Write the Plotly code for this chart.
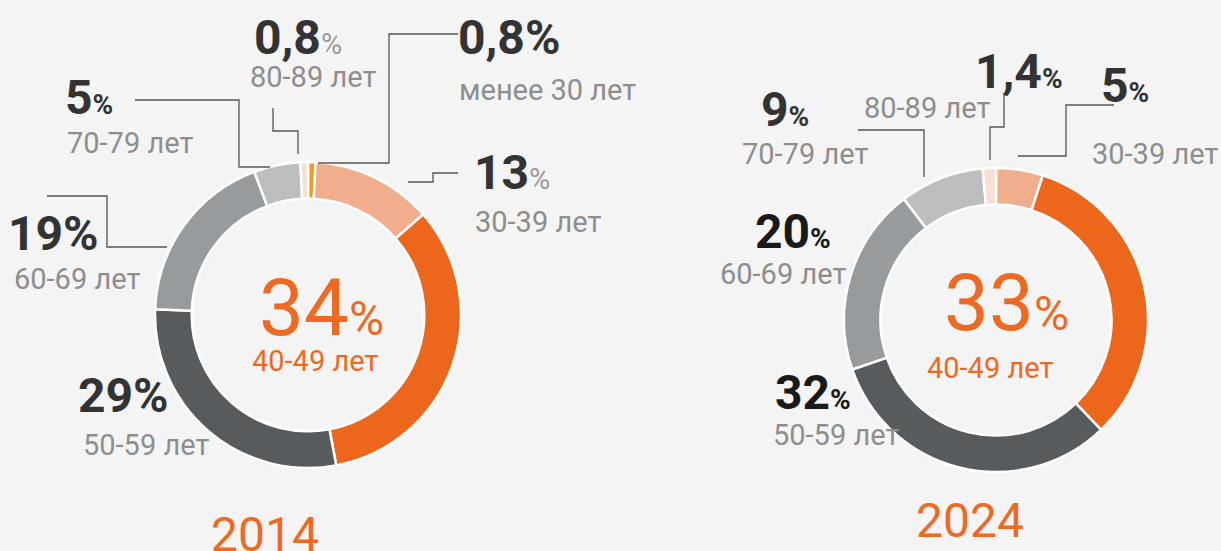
import plotly.graph_objects as go

W, H = 1221, 551

# ---------------- data ----------------
ages_2014 = ["менее 30 лет", "30-39 лет", "40-49 лет", "50-59 лет", "60-69 лет", "70-79 лет", "80-89 лет"]
values_2014 = [0.8, 13, 34, 29, 19, 5, 0.8]
ages_2024 = ["30-39 лет", "40-49 лет", "50-59 лет", "60-69 лет", "70-79 лет", "80-89 лет"]
values_2024 = [5, 33, 32, 20, 9, 1.4]
years = ["2014", "2024"]

age_colors = {
    "менее 30 лет": "#F39A1E",
    "30-39 лет": "#F0AE8D",
    "40-49 лет": "#EC671C",
    "50-59 лет": "#575B5E",
    "60-69 лет": "#979B9D",
    "70-79 лет": "#BEBEBE",
    "80-89 лет": "#F9DFD2",
}

# ---------------- layout config (pixels) ----------------
ORANGE = "#EE6A22"
GRAY_TXT = "#8E8E8E"
LINE = "#555555"

def px(x):
    return x / W

def py(y):
    return 1 - y / H

def fmt(v):
    return f"{v:g}".replace(".", ",")

# donut geometry: center x, center y, radius
donuts = {
    "2014": (308, 315, 153),
    "2024": (996, 320, 152),
}

# label placement per year/age: (num_x, num_y, lab_x, lab_y, pct_style, num_color)
label_cfg = {
    "2014": {
        "80-89 лет": (252, 37, 248, 77, "gray", "#333333"),
        "менее 30 лет": (456, 37, 457, 90, "full", "#333333"),
        "30-39 лет": (472, 172, 473, 222, "gray", "#333333"),
        "70-79 лет": (63, 97, 65, 143, "small", "#333333"),
        "60-69 лет": (6, 233, 12, 279, "full", "#333333"),
        "50-59 лет": (76, 395, 81, 445, "full", "#333333"),
    },
    "2024": {
        "70-79 лет": (759, 110, 740, 154, "small", "#333333"),
        "80-89 лет": (973, 71, 862, 108, "small", "#333333"),
        "30-39 лет": (1099, 85, 1090, 154, "small", "#333333"),
        "60-69 лет": (753, 231, 718, 274, "small", "#1A1A1A"),
        "50-59 лет": (773, 393, 771, 435, "small", "#1A1A1A"),
    },
}

leaders = [
    [(273, 108), (273, 131), (298, 131), (298, 154)],
    [(458, 34), (389, 34), (389, 163), (318, 163)],
    [(458, 173), (433, 173), (433, 182), (408, 182)],
    [(135, 100), (239, 100), (239, 167), (270, 167)],
    [(47, 196), (107, 196), (107, 247), (167, 247)],
    [(858, 130), (924, 130), (924, 177)],
    [(1004, 93), (1004, 127), (990, 127), (990, 160)],
    [(1114, 105), (1066, 105), (1066, 156), (1018, 156)],
]

# center number x,y ; center label x,y ; year x,y
center_cfg = {
    "2014": (257, 308, 250, 361, 265, 534),
    "2024": (942, 303, 925, 368, 970, 520),
}

fig = go.Figure()

for yr, ages, vals in [("2014", ages_2014, values_2014), ("2024", ages_2024, values_2024)]:
    cx, cy, r = donuts[yr]
    fig.add_trace(go.Pie(
        labels=ages, values=vals, sort=False, direction="clockwise", rotation=0,
        hole=0.76, textinfo="none", hoverinfo="label+value", showlegend=False,
        marker=dict(colors=[age_colors[a] for a in ages], line=dict(color="#FFFFFF", width=2.5)),
        domain=dict(x=[px(cx - r), px(cx + r)], y=[py(cy + r), py(cy - r)]),
    ))

annotations = []

def add_text(x, y, text, size, color, bold=False, xanchor="left"):
    annotations.append(dict(
        x=px(x), y=py(y), xref="paper", yref="paper", xanchor=xanchor, yanchor="middle",
        text=text, showarrow=False,
        font=dict(family="Roboto", size=size, color=color, weight=700 if bold else 400),
    ))

for yr, ages, vals in [("2014", ages_2014, values_2014), ("2024", ages_2024, values_2024)]:
    for a, v in zip(ages, vals):
        if a == "40-49 лет":
            nx, ny, lx, ly, yx, yy = center_cfg[yr]
            add_text(nx, ny, f"{fmt(v)}<span style='font-size:48px'>%</span>", 80, ORANGE)
            add_text(lx, ly, a, 29, ORANGE)
            add_text(yx, yy, yr, 48, ORANGE, xanchor="center")
            continue
        nx, ny, lx, ly, style, col = label_cfg[yr][a]
        num = fmt(v)
        if style == "full":
            txt = f"<b>{num}%</b>"
        elif style == "gray":
            txt = f"<b>{num}</b><span style='font-size:29px;color:#9A9A9A'>%</span>"
        else:
            txt = f"<b>{num}<span style='font-size:28px'>%</span></b>"
        add_text(nx, ny, txt, 48, col)
        add_text(lx, ly, a, 29, GRAY_TXT)

shapes = []
for pts in leaders:
    path = "M " + " L ".join(f"{px(x):.5f},{py(y):.5f}" for x, y in pts)
    shapes.append(dict(type="path", xref="paper", yref="paper", path=path,
                       line=dict(color=LINE, width=1.3)))

fig.update_layout(
    width=W, height=H, margin=dict(l=0, r=0, t=0, b=0),
    paper_bgcolor="#F4F4F4", plot_bgcolor="#F4F4F4",
    annotations=annotations, shapes=shapes,
    font=dict(family="Roboto"),
)

fig.write_html(
    "out.html",
    config={"displayModeBar": False},
    post_script="document.body.style.margin='0';document.body.style.overflow='hidden';"
                "document.body.style.background='#F4F4F4';",
)
